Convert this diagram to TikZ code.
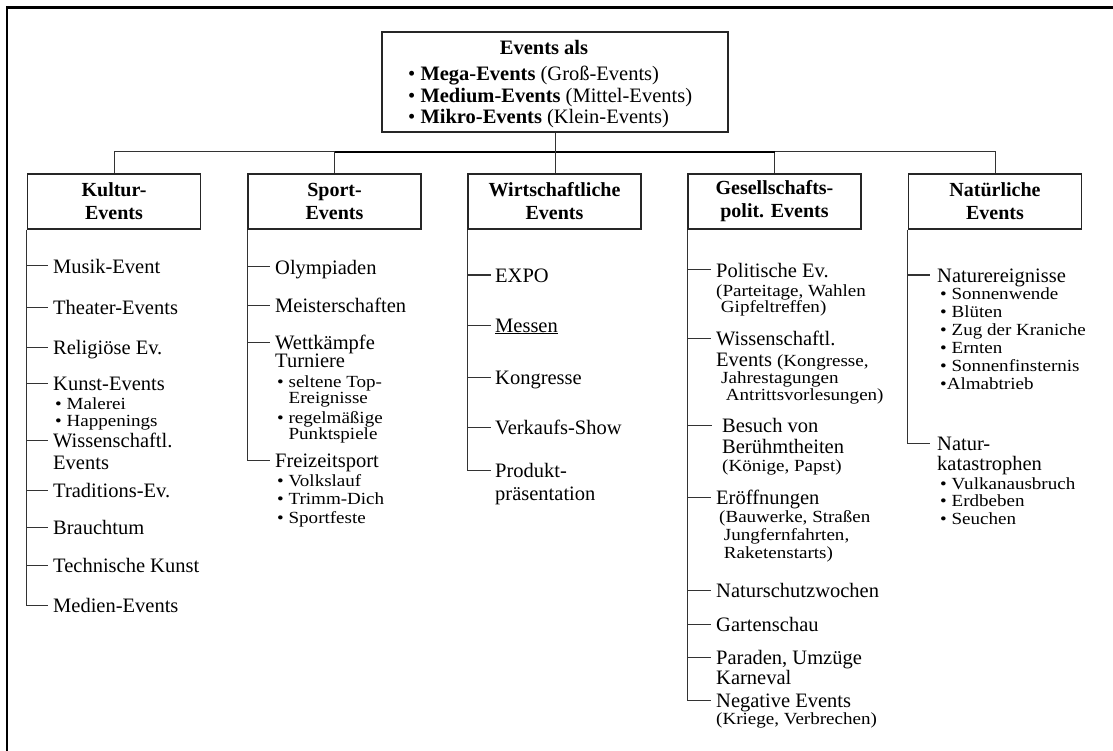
\documentclass[tikz,border=0pt]{standalone}
\usepackage{fontspec}
\setmainfont{Liberation Serif}
\newfontfamily\subfam[FakeStretch=1.12]{Liberation Serif}
\newcommand{\mainsz}{\fontsize{20.5}{22}\selectfont}
\newcommand{\subsz}{\subfam\fontsize{17}{17}\selectfont}
\newcommand{\headsz}{\fontsize{20}{23}\selectfont\bfseries}
% left-aligned stack of lines with a fixed baseline distance; baseline = first line
\newcommand{\rows}[2]{\vtop{\baselineskip=#1\relax\lineskiplimit=-100pt\lineskip=0pt\halign{##\hfil\cr#2\crcr}}}

\begin{document}
\begin{tikzpicture}[x=1pt,y=-1pt,
  conn/.style={draw=black!80,line width=1pt},
  bus/.style={draw=black,line width=2pt},
  headbox/.style={draw=black!85,line width=1.3pt,minimum width=173pt,minimum height=55pt,
    inner sep=0pt,align=center,font=\headsz},
  entry/.style={anchor=base west,inner sep=0pt,text height=14pt,text depth=0pt,font=\mainsz},
  subentry/.style={anchor=base west,inner sep=0pt,text height=12pt,text depth=0pt,font=\subsz},
]
\useasboundingbox (0,0) rectangle (1113,751);

% frame (top and left edges only)
\draw[line width=2.2pt] (7,751) -- (7,7.5) -- (1113,7.5);

% root box
\node[draw=black!85,line width=1.3pt,minimum width=346pt,minimum height=100pt,inner sep=0pt] (top) at (555,82) {};
\node[anchor=base,inner sep=0pt,font=\mainsz\bfseries] (toptitle) at (544,55) {Events als};
\node[anchor=base west,inner sep=0pt,font=\mainsz] (toplist) at (408,81)
  {\rows{21.5pt}{• \textbf{Mega-Events} (Groß-Events)\cr • \textbf{Medium-Events} (Mittel-Events)\cr • \textbf{Mikro-Events} (Klein-Events)}};

% category boxes
\node[headbox] (kultur) at (114,201.5) {Kultur-\\Events};
\node[headbox] (sport)  at (334.5,201.5) {Sport-\\Events};
\node[headbox] (wirt)   at (554.5,201.5) {Wirtschaftliche\\Events};
\node[headbox] (gesell) at (774.5,201.5) {Gesellschafts-\\polit. Events};
\node[headbox] (natur)  at (995,201.5) {Natürliche\\Events};

% bus connecting the categories
\coordinate (busy) at (0,152);
\draw[conn] (kultur.north) -- (kultur.north |- busy) -- (natur.north |- busy) -- (natur.north);
\draw[conn] (sport.north) -- (sport.north |- busy);
\draw[conn] (gesell.north) -- (gesell.north |- busy);
\draw[bus] (sport.north |- busy) -- (gesell.north |- busy);
\draw[conn] (top.south) -- (top.south |- wirt.north);

% ---- Kultur-Events
\node[entry] (k1) at (53,273) {Musik-Event};
\node[entry] (k2) at (53,314) {Theater-Events};
\node[entry] (k3) at (53,354) {Religiöse Ev.};
\node[entry] (k4) at (53,390) {Kunst-Events};
\node[subentry] (k4s) at (55,409) {\rows{17pt}{• Malerei\cr • Happenings}};
\node[entry] (k5) at (53,447) {\rows{22pt}{Wissenschaftl.\cr Events}};
\node[entry] (k6) at (53,497) {Traditions-Ev.};
\node[entry] (k7) at (53,534) {Brauchtum};
\node[entry] (k8) at (53,572) {Technische Kunst};
\node[entry] (k9) at (53,612) {Medien-Events};
\foreach \n in {k1,k2,k3,k4,k5,k6,k7,k8}
  \draw[conn] (kultur.south west |- \n.west) -- ([xshift=-5pt]\n.west);
\draw[conn] (kultur.south west) |- ([xshift=-5pt]k9.west);

% ---- Sport-Events
\node[entry] (s1) at (275,274) {Olympiaden};
\node[entry] (s2) at (275,312) {Meisterschaften};
\node[entry] (s3) at (275,349) {\rows{18.5pt}{Wettkämpfe\cr Turniere}};
\node[subentry] (s3s) at (277,387)
  {\rows{16.5pt}{• seltene Top-\cr\hphantom{• }Ereignisse\cr\noalign{\vskip3pt}• regelmäßige\cr\hphantom{• }Punktspiele}};
\node[entry] (s4) at (275,467) {Freizeitsport};
\node[subentry] (s4s) at (277,486) {\rows{18.5pt}{• Volkslauf\cr • Trimm-Dich\cr • Sportfeste}};
\foreach \n in {s1,s2,s3}
  \draw[conn] (sport.south west |- \n.west) -- ([xshift=-5pt]\n.west);
\draw[conn] (sport.south west) |- ([xshift=-5pt]s4.west);

% ---- Wirtschaftliche Events
\node[entry] (w1) at (495,282) {EXPO};
\node[entry] (w2) at (495,332) {\underline{Messen}};
\node[entry] (w3) at (495,384) {Kongresse};
\node[entry] (w4) at (495,434) {Verkaufs-Show};
\node[entry] (w5) at (495,477) {\rows{23pt}{Produkt-\cr präsentation}};
\foreach \n in {w1,w2,w3,w4}
  \draw[conn] (wirt.south west |- \n.west) -- ([xshift=-4pt]\n.west);
\draw[conn] (wirt.south west) |- ([xshift=-4pt]w5.west);

% ---- Gesellschaftspolitische Events
\node[entry] (g1) at (716,277) {Politische Ev.};
\node[subentry] (g1s) at (716,296) {\rows{17pt}{(Parteitage, Wahlen\cr\ Gipfeltreffen)}};
\node[entry] (g2) at (716,345) {\rows{21pt}{Wissenschaftl.\cr Events {\subsz(Kongresse,}}};
\node[subentry] (g2s) at (721,383) {\rows{17pt}{Jahrestagungen\cr\ Antrittsvorlesungen)}};
\node[entry] (g3) at (722,432) {\rows{21pt}{Besuch von\cr Berühmtheiten}};
\node[subentry] (g3s) at (722,471) {(Könige, Papst)};
\node[entry] (g4) at (716,504) {Eröffnungen};
\node[subentry] (g4s) at (719,522) {\rows{18pt}{(Bauwerke, Straßen\cr\ Jungfernfahrten,\cr\ Raketenstarts)}};
\node[entry] (g5) at (716,597) {Naturschutzwochen};
\node[entry] (g6) at (716,631) {Gartenschau};
\node[entry] (g7) at (716,664) {\rows{20pt}{Paraden, Umzüge\cr Karneval}};
\node[entry] (g8) at (716,707) {Negative Events};
\node[subentry] (g8s) at (716,724) {(Kriege, Verbrechen)};
\foreach \n in {g1,g2,g4,g5,g6,g7}
  \draw[conn] (gesell.south west |- \n.west) -- ([xshift=-5pt]\n.west);
\draw[conn] (gesell.south west |- g3.west) -- ([xshift=-10pt]g3.west);
\draw[conn] (gesell.south west) |- ([xshift=-5pt]g8.west);

% ---- Natürliche Events
\node[entry] (n1) at (937,282) {Naturereignisse};
\node[subentry] (n1s) at (940,299)
  {\rows{18pt}{• Sonnenwende\cr • Blüten\cr • Zug der Kraniche\cr • Ernten\cr • Sonnenfinsternis\cr •Almabtrieb}};
\node[entry] (n2) at (937,450) {\rows{20pt}{Natur-\cr katastrophen}};
\node[subentry] (n2s) at (940,489) {\rows{17.5pt}{• Vulkanausbruch\cr • Erdbeben\cr • Seuchen}};
\draw[conn] (natur.south west |- n1.west) -- ([xshift=-7pt]n1.west);
\draw[conn] (natur.south west) |- ([xshift=-7pt]n2.west);

\end{tikzpicture}
\end{document}
